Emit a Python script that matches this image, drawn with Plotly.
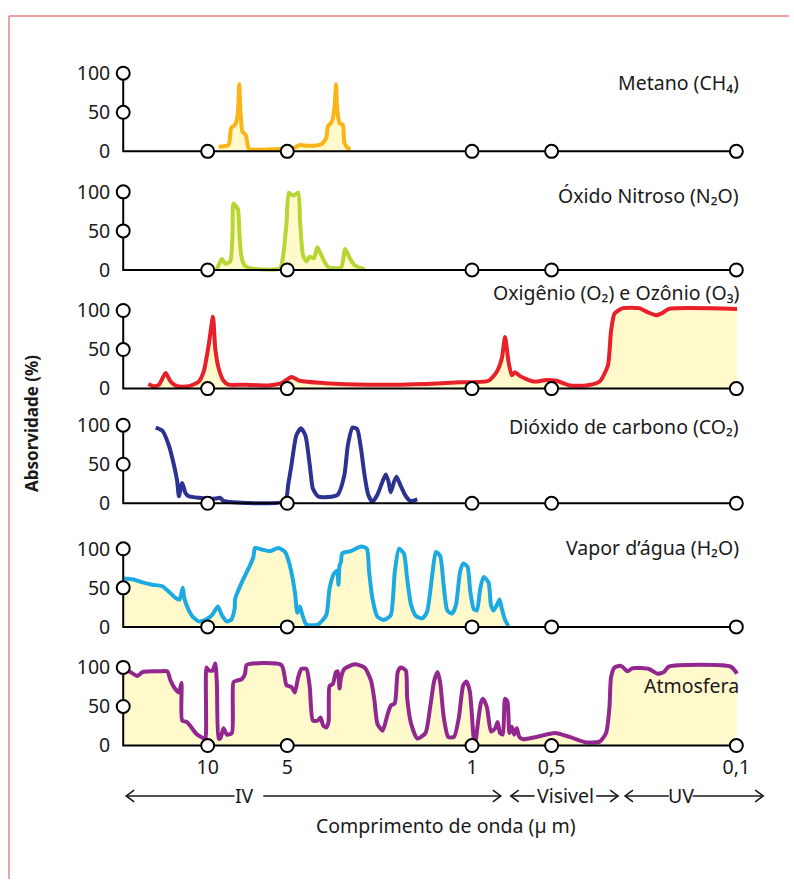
import plotly.graph_objects as go

# ---------------------------------------------------------------
# Absorption spectra (wavelength in µm, absorption in %)
# ---------------------------------------------------------------
METANO_WL = [9.09, 8.34, 8.15, 7.87, 7.69, 7.60, 7.51, 7.38, 7.18, 7.06,
             6.97, 5.33, 4.83, 4.48, 4.17, 3.72, 3.56, 3.51, 3.39, 3.31,
             3.27, 3.24, 3.17, 3.08, 3.04, 2.95, 2.88]
METANO_ABS = [6, 8, 30, 34, 49, 86, 49, 25, 21, 8,
              3, 3, 3, 8, 7, 9, 17, 32, 38, 57,
              86, 57, 36, 34, 11, 4, 4]

N2O_WL = [9.23, 8.84, 8.58, 8.22, 8.05, 7.99, 7.69, 7.60, 7.47, 7.26,
          6.82, 5.33, 5.18, 5.03, 4.93, 4.75, 4.55, 4.47, 4.36, 4.23,
          4.11, 3.96, 3.85, 3.74, 3.51, 3.13, 3.02, 2.91, 2.78, 2.55]
N2O_ABS = [1, 14, 8, 11, 48, 85, 78, 53, 19, 6,
           2, 2, 19, 61, 99, 95, 99, 61, 19, 11,
           17, 15, 29, 21, 4, 3, 27, 16, 6, 1]

O2_O3_WL = [16.76, 15.96, 15.29, 14.42, 13.81, 13.04, 11.79, 10.81, 10.35, 9.91,
            9.55, 9.36, 9.09, 8.71, 8.34, 7.22, 5.90, 5.26, 4.82, 4.48,
            3.61, 2.48, 1.48, 1.11, 0.866, 0.805, 0.771, 0.750, 0.728, 0.707,
            0.688, 0.658, 0.586, 0.522, 0.479, 0.427, 0.370, 0.329, 0.306, 0.298,
            0.289, 0.269, 0.233, 0.217, 0.2016, 0.190, 0.180, 0.0994]
O2_O3_ABS = [6, 3, 5, 20, 9, 3, 3, 9, 22, 56,
             92, 51, 26, 10, 5, 5, 4, 7, 15, 10,
             7, 5, 6, 8, 10, 22, 39, 66, 35, 17,
             21, 16, 9, 11, 10, 4, 4, 9, 30, 73,
             96, 103, 103, 98, 94, 97, 102, 102]

CO2_WL = [15.73, 14.85, 14.02, 13.42, 13.04, 12.85, 12.49, 12.13, 11.79, 10.81,
          9.36, 8.96, 8.71, 5.10, 4.96, 4.82, 4.62, 4.44, 4.27, 4.11,
          4.00, 3.83, 3.51, 3.22, 3.04, 2.95, 2.83, 2.72, 2.63, 2.55,
          2.47, 2.38, 2.28, 2.18, 2.12, 2.07, 2.03, 1.97, 1.93, 1.87,
          1.78, 1.71, 1.61]
CO2_ABS = [97, 93, 74, 49, 28, 9, 26, 13, 9, 7,
           6, 7, 3, 3, 24, 49, 87, 96, 87, 49,
           19, 9, 8, 11, 36, 74, 97, 95, 70, 36,
           11, 2, 11, 28, 37, 28, 14, 28, 34, 24,
           9, 3, 5]

H2O_WL = [20.69, 19.26, 17.66, 16.20, 14.85, 14.02, 13.22, 12.78, 12.42, 12.28,
          11.96, 11.46, 10.81, 10.20, 9.63, 9.15, 8.84, 8.46, 8.15, 7.91,
          7.87, 7.43, 6.91, 6.72, 6.62, 6.25, 5.81, 5.41, 5.10, 4.89,
          4.68, 4.58, 4.48, 4.39, 4.23, 3.83, 3.56, 3.46, 3.33, 3.24,
          3.20, 3.17, 3.13, 3.10, 2.87, 2.63, 2.50, 2.45, 2.38, 2.28,
          2.15, 2.03, 1.96, 1.89, 1.81, 1.76, 1.70, 1.63, 1.54, 1.48,
          1.41, 1.37, 1.32, 1.28, 1.24, 1.19, 1.15, 1.11, 1.08, 1.04,
          1.015, 0.985, 0.958, 0.931, 0.904, 0.866, 0.848, 0.829, 0.805, 0.787,
          0.771, 0.750, 0.728]
H2O_ABS = [62, 61, 57, 54, 52, 45, 37, 35, 50, 38,
           26, 14, 7, 9, 15, 26, 15, 7, 9, 23,
           36, 57, 79, 89, 101, 99, 97, 101, 96, 79,
           45, 18, 26, 16, 3, 3, 15, 49, 68, 72,
           54, 79, 83, 94, 97, 103, 100, 70, 36, 13,
           9, 15, 70, 100, 94, 62, 28, 14, 11, 19,
           70, 96, 91, 53, 21, 17, 28, 70, 81, 77,
           45, 23, 21, 49, 64, 57, 28, 21, 28, 35,
           23, 9, 1]

ATM_WL = [20.87, 19.82, 18.45, 17.66, 15.29, 14.22, 13.81, 13.31, 12.85, 12.56,
          12.49, 11.96, 11.46, 10.97, 10.35, 10.20, 10.11, 9.91, 9.58, 9.36,
          9.23, 9.09, 8.96, 8.71, 8.46, 8.10, 7.99, 7.76, 7.43, 7.22,
          7.12, 5.26, 5.03, 4.82, 4.68, 4.55, 4.42, 4.23, 4.11, 4.00,
          3.83, 3.74, 3.66, 3.56, 3.49, 3.46, 3.36, 3.27, 3.22, 3.17,
          3.13, 3.04, 2.78, 2.55, 2.41, 2.34, 2.28, 2.18, 2.09, 2.03,
          1.96, 1.91, 1.86, 1.78, 1.76, 1.70, 1.61, 1.50, 1.44, 1.39,
          1.35, 1.32, 1.28, 1.23, 1.17, 1.12, 1.08, 1.05, 1.02, 1.00,
          0.985, 0.972, 0.949, 0.925, 0.909, 0.878, 0.848, 0.817, 0.800, 0.783,
          0.765, 0.750, 0.734, 0.722, 0.707, 0.693, 0.677, 0.662, 0.639, 0.570,
          0.486, 0.427, 0.370, 0.329, 0.311, 0.302, 0.298, 0.289, 0.273, 0.258,
          0.247, 0.214, 0.199, 0.188, 0.180, 0.105, 0.0994]
ATM_ABS = [99, 95, 89, 94, 95, 95, 83, 73, 68, 80,
           32, 30, 22, 14, 9, 8, 100, 96, 96, 105,
           80, 9, 9, 22, 14, 16, 81, 83, 85, 92,
           103, 103, 77, 75, 68, 87, 98, 98, 75, 32,
           32, 36, 26, 23, 30, 76, 79, 94, 95, 73,
           87, 98, 104, 100, 83, 58, 28, 19, 39, 51,
           54, 94, 100, 96, 62, 28, 9, 16, 49, 83,
           94, 81, 37, 11, 11, 37, 77, 82, 70, 37,
           9, 4, 30, 55, 60, 49, 18, 22, 30, 16,
           14, 60, 56, 16, 24, 14, 22, 11, 8, 11,
           16, 11, 4, 5, 16, 49, 87, 100, 102, 95,
           99, 98, 92, 94, 101, 101, 92]

PANEL_NAMES = ["Metano (CH₄)", "Óxido Nitroso (N₂O)", "Oxigênio (O₂) e Ozônio (O₃)",
               "Dióxido de carbono (CO₂)", "Vapor d’água (H₂O)", "Atmosfera"]
X_TICK_VALS = [10, 5, 1, 0.5, 0.1]
X_TICK_TEXT = ["10", "5", "1", "0,5", "0,1"]
Y_TICK_VALS = [0, 50, 100]
Y_TICK_TEXT = ["0", "50", "100"]
BANDS = ["IV", "Visivel", "UV"]

# ---------------------------------------------------------------
# Styling and geometry
# ---------------------------------------------------------------
W, H = 794, 884
FONT = "Noto Sans"
FS = 19.5
TEXT = "#1a1a1a"
FILL = "rgb(255,249,204)"
COLORS = ["#FBB316", "#B9D532", "#E8202A", "#2B3291", "#1CAAE2", "#92278F"]
FILLED = [True, True, True, False, True, True]
SERIES = [(METANO_WL, METANO_ABS), (N2O_WL, N2O_ABS), (O2_O3_WL, O2_O3_ABS),
          (CO2_WL, CO2_ABS), (H2O_WL, H2O_ABS), (ATM_WL, ATM_ABS)]

PX_PER_DECADE = 266.0
REF_PX = 209.0            # horizontal pixel of the 10 µm mark
PLOT_L, PLOT_R = 116, 750
AXIS_X0, AXIS_X1 = 124, 745
ZERO_PX = [148, 268, 388, 504, 629, 749]
PX_PER_UNIT = 0.79
Y_MIN, Y_MAX = -10, 112
LABEL_Y = [78, 193, 291, 426, 549, 688]
LABEL_RIGHT = 746


def px_log(px):
    return 1 - (px - REF_PX) / PX_PER_DECADE


def PX(x):
    return x / W


def PY(y):
    return 1 - y / H


X_RANGE = [px_log(PLOT_L), px_log(PLOT_R)]
AX_START = 10 ** px_log(AXIS_X0)
AX_END = 10 ** px_log(AXIS_X1)

fig = go.Figure()
layout = {}
annotations = []

for i, (name, (wl, ab), color, filled) in enumerate(zip(PANEL_NAMES, SERIES, COLORS, FILLED)):
    n = "" if i == 0 else str(i + 1)
    xa, ya = "x" + n, "y" + n
    z = ZERO_PX[i]
    bottom = z - Y_MIN * PX_PER_UNIT
    top = z - Y_MAX * PX_PER_UNIT

    fig.add_trace(go.Scatter(
        x=wl, y=ab, mode="lines", xaxis=xa, yaxis=ya,
        line=dict(color=color, width=4, shape="spline", smoothing=0.6),
        fill="tozeroy" if filled else None, fillcolor=FILL,
        hoverinfo="skip", showlegend=False))

    fig.add_trace(go.Scatter(
        x=[AX_START, AX_START, AX_END], y=[100, 0, 0], mode="lines",
        xaxis=xa, yaxis=ya, line=dict(color="black", width=2),
        hoverinfo="skip", showlegend=False))

    fig.add_trace(go.Scatter(
        x=[AX_START, AX_START] + X_TICK_VALS, y=[100, 50] + [0] * len(X_TICK_VALS),
        mode="markers", xaxis=xa, yaxis=ya, cliponaxis=False,
        marker=dict(symbol="circle", size=13, color="white",
                    line=dict(color="black", width=2)),
        hoverinfo="skip", showlegend=False))

    last = i == len(PANEL_NAMES) - 1
    layout["xaxis" + n] = dict(
        type="log", range=X_RANGE, domain=[PX(PLOT_L), PX(PLOT_R)], anchor=ya,
        showgrid=False, zeroline=False, showline=False, ticks="",
        tickvals=X_TICK_VALS, ticktext=X_TICK_TEXT, showticklabels=last,
        tickfont=dict(family=FONT, size=FS, color=TEXT), fixedrange=True)
    layout["yaxis" + n] = dict(
        range=[Y_MIN, Y_MAX], domain=[PY(bottom), PY(top)], anchor=xa,
        showgrid=False, zeroline=False, showline=False, ticks="",
        tickvals=Y_TICK_VALS, ticktext=Y_TICK_TEXT, ticklabelstandoff=4,
        tickfont=dict(family=FONT, size=FS, color=TEXT), fixedrange=True)

    annotations.append(dict(
        text=name, xref="paper", yref="paper", x=PX(LABEL_RIGHT), y=PY(LABEL_Y[i]),
        xanchor="right", yanchor="middle", showarrow=False,
        font=dict(family=FONT, size=FS, color=TEXT)))

# axis title and wavelength bands
annotations.append(dict(
    text="<b>Absorvidade (%)</b>", xref="paper", yref="paper", x=PX(31), y=PY(423),
    textangle=-90, showarrow=False, xanchor="center", yanchor="middle",
    font=dict(family=FONT, size=17, color=TEXT)))
annotations.append(dict(
    text="Comprimento de onda (µ m)", xref="paper", yref="paper", x=PX(449), y=PY(830),
    showarrow=False, xanchor="center", yanchor="middle",
    font=dict(family=FONT, size=FS, color=TEXT)))

ARROW_Y = 800
band_text_x = [246, 569, 685]
for txt, bx in zip(BANDS, band_text_x):
    annotations.append(dict(
        text=txt, xref="paper", yref="paper", x=PX(bx), y=PY(ARROW_Y),
        showarrow=False, xanchor="center", yanchor="middle",
        font=dict(family=FONT, size=FS, color=TEXT)))

shapes = []
line_style = dict(color=TEXT, width=1.6)
segments = [(127, 236), (265, 504), (514, 538), (600, 622), (629, 673), (697, 768)]
for a, b in segments:
    shapes.append(dict(type="line", xref="paper", yref="paper",
                       x0=PX(a), x1=PX(b), y0=PY(ARROW_Y), y1=PY(ARROW_Y), line=line_style))
left_tips = [127, 514, 629]
right_tips = [504, 622, 768]
for t in left_tips:
    shapes.append(dict(type="path", xref="paper", yref="paper", line=line_style,
                       path=f"M {PX(t + 8)} {PY(ARROW_Y - 6)} L {PX(t)} {PY(ARROW_Y)} L {PX(t + 8)} {PY(ARROW_Y + 6)}"))
for t in right_tips:
    shapes.append(dict(type="path", xref="paper", yref="paper", line=line_style,
                       path=f"M {PX(t - 8)} {PY(ARROW_Y - 6)} L {PX(t)} {PY(ARROW_Y)} L {PX(t - 8)} {PY(ARROW_Y + 6)}"))

# page frame
frame = dict(color="#E38584", width=1.5)
shapes.append(dict(type="line", xref="paper", yref="paper",
                   x0=PX(9), x1=PX(9), y0=PY(11), y1=0, line=frame))
shapes.append(dict(type="line", xref="paper", yref="paper",
                   x0=PX(9), x1=1, y0=PY(11), y1=PY(11), line=frame))

fig.update_layout(
    width=W, height=H, margin=dict(l=0, r=0, t=0, b=0, pad=0),
    paper_bgcolor="white", plot_bgcolor="rgba(0,0,0,0)",
    annotations=annotations, shapes=shapes, showlegend=False,
    font=dict(family=FONT, size=FS, color=TEXT),
    **layout)

fig.write_html("out.html", config={"displayModeBar": False})
